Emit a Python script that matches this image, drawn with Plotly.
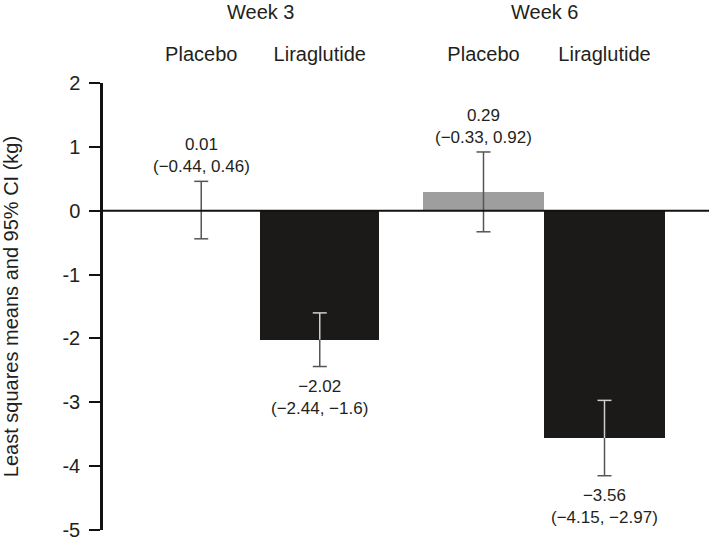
import plotly.graph_objects as go

# ---- data ----
weeks = ["Week 3", "Week 6"]
treatments = ["Placebo", "Liraglutide"]
means = {"Week 3": [0.01, -2.02], "Week 6": [0.29, -3.56]}
ci_low = {"Week 3": [-0.44, -2.44], "Week 6": [-0.33, -4.15]}
ci_high = {"Week 3": [0.46, -1.6], "Week 6": [0.92, -2.97]}
mean_labels = {"Week 3": ["0.01", "\u22122.02"], "Week 6": ["0.29", "\u22123.56"]}
ci_labels = {"Week 3": ["(\u22120.44, 0.46)", "(\u22122.44, \u22121.6)"],
             "Week 6": ["(\u22120.33, 0.92)", "(\u22124.15, \u22122.97)"]}
y_tickvals = [2, 1, 0, -1, -2, -3, -4, -5]
y_ticktext = ["2", "1", "0", "-1", "-2", "-3", "-4", "-5"]
y_title = "Least squares means and 95% CI (kg)"

# ---- style ----
FONT = "Liberation Sans, Arial, Helvetica, sans-serif"
TXT = "#231f20"
bar_colors = {"Placebo": "#9e9e9e", "Liraglutide": "#1c1a19"}
err_dark = "#555555"
err_light = "#cfcfcf"


def ci_segment(fig, tr, y0, y1, cap_y, color, xa):
    """Vertical CI segment between y0 and y1 with a cap at cap_y."""
    fig.add_trace(go.Scatter(x=[tr, tr], y=[y0, y1], mode="lines",
                             line=dict(color=color, width=1.5), xaxis=xa, yaxis="y",
                             showlegend=False, hoverinfo="skip"))
    fig.add_trace(go.Scatter(x=[tr], y=[cap_y], mode="markers",
                             marker=dict(symbol="line-ew", size=10,
                                         line=dict(color=color, width=1.5)),
                             xaxis=xa, yaxis="y", showlegend=False, hoverinfo="skip"))


fig = go.Figure()
axes = {"Week 3": "x", "Week 6": "x2"}

for wk in weeks:
    xa = axes[wk]
    for i, tr in enumerate(treatments):
        m = means[wk][i]
        fig.add_trace(go.Bar(x=[tr], y=[m], marker=dict(color=bar_colors[tr], line=dict(width=0)),
                             xaxis=xa, yaxis="y", showlegend=False, width=1))
    for i, tr in enumerate(treatments):
        m = means[wk][i]
        lo = ci_low[wk][i]
        hi = ci_high[wk][i]
        if tr == "Placebo":
            ci_segment(fig, tr, lo, hi, hi, err_dark, xa)
            fig.add_trace(go.Scatter(x=[tr], y=[lo], mode="markers",
                                     marker=dict(symbol="line-ew", size=10,
                                                 line=dict(color=err_dark, width=1.5)),
                                     xaxis=xa, yaxis="y", showlegend=False, hoverinfo="skip"))
        else:
            ci_segment(fig, tr, m, hi, hi, err_light, xa)
            ci_segment(fig, tr, m, lo, lo, err_dark, xa)

annotations = []
for wk in weeks:
    xa = axes[wk]
    for i, tr in enumerate(treatments):
        m = means[wk][i]
        text = mean_labels[wk][i] + "<br>" + ci_labels[wk][i]
        if m >= 0:
            annotations.append(dict(x=tr, y=ci_high[wk][i], xref=xa, yref="y", text=text,
                                    showarrow=False, yanchor="bottom", yshift=3,
                                    font=dict(size=17, color=TXT, family=FONT)))
        else:
            annotations.append(dict(x=tr, y=ci_low[wk][i], xref=xa, yref="y", text=text,
                                    showarrow=False, yanchor="top", yshift=-8,
                                    font=dict(size=17, color=TXT, family=FONT)))
    annotations.append(dict(x=0.5, y=1, xref=xa, yref="paper", text=wk, showarrow=False,
                            yanchor="middle", yshift=71,
                            font=dict(size=20, color=TXT, family=FONT)))

fig.update_layout(
    width=709, height=540,
    margin=dict(l=103, r=0, t=83, b=10, autoexpand=False),
    paper_bgcolor="white", plot_bgcolor="white",
    bargap=0,
    font=dict(family=FONT, color=TXT, size=20),
    annotations=annotations,
    shapes=[dict(type="line", xref="paper", yref="y", x0=0, x1=1, y0=0, y1=0,
                 line=dict(color="#111111", width=2), layer="above")],
    xaxis=dict(domain=[0, 276 / 606], range=[-0.829, 1.5], side="top", anchor="y",
               showline=False, showgrid=False, zeroline=False, ticks="", automargin=False,
               ticklabelstandoff=17, tickfont=dict(size=20, color=TXT, family=FONT),
               categoryorder="array", categoryarray=treatments, fixedrange=True),
    xaxis2=dict(domain=[320 / 606, 562 / 606], range=[-0.5, 1.5], side="top", anchor="y",
                showline=False, showgrid=False, zeroline=False, ticks="", automargin=False,
                ticklabelstandoff=17, tickfont=dict(size=20, color=TXT, family=FONT),
                categoryorder="array", categoryarray=treatments, fixedrange=True),
    yaxis=dict(range=[-5, 2], anchor="x", showline=True, linewidth=2.5, linecolor="#111111",
               ticks="outside", ticklen=11, tickwidth=2, tickcolor="#111111", automargin=False,
               tickvals=y_tickvals, ticktext=y_ticktext, ticklabelstandoff=5,
               ticklabeloverflow="allow",
               tickfont=dict(size=20, color=TXT, family=FONT),
               showgrid=False, zeroline=False, fixedrange=True,
               title=dict(text=y_title, standoff=41, font=dict(size=20, color=TXT, family=FONT))),
)

fig.write_html("out.html", config={"displayModeBar": False},
               post_script="document.body.style.margin='0';")
